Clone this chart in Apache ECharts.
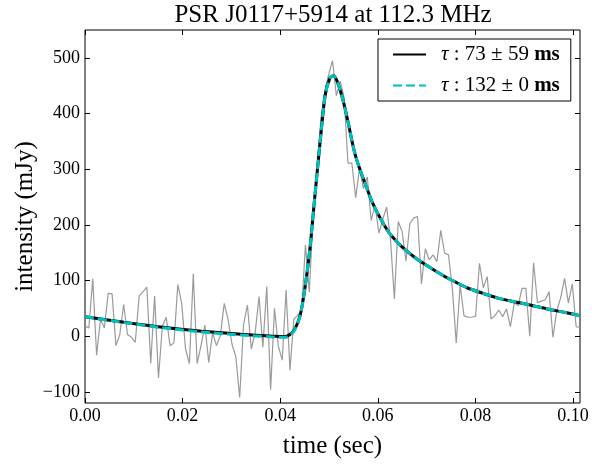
<!DOCTYPE html>
<html><head><meta charset="utf-8">
<script src="https://cdn.jsdelivr.net/npm/echarts@6/dist/echarts.min.js"></script>
<style>html,body{margin:0;padding:0;background:#fff}#c{width:599px;height:464px}</style>
</head><body><div id="c"></div>
<script>
// ---- data ----
const PERIOD = 0.10144;   // sec, x-axis extent
const NBINS = 128;        // profile bins
const profile = [
  18, 15, 103, -34, 30, 15, 77, 76, -17, 3,
  57, 3, -2, -11, 72, 80, 88, -49, 72, -75,
  18, 34, -17, -12, 93, 59, -23, -49, 112, -49,
  -17, 20, -47, 6, -17, 1, 59, 30, -14, -37,
  -110, 21, 56, -23, 6, 71, -20, 89, -96, 50,
  -18, -43, 83, -61, 30, 38, 44, 164, 79, 216,
  301, 391, 441, 470, 495, 432, 458, 429, 311, 311,
  249, 302, 265, 286, 208, 235, 185, 210, 232, 174,
  67, 206, 188, 135, 202, 212, 215, 94, 157, 137,
  146, 134, 190, 149, 146, 85, -12, 92, 37, 34,
  34, 36, 131, 87, 107, 31, 37, 47, 35, 49,
  17, 60, 55, 86, 86, 0, 132, 60, 63, 65,
  80, -2, 46, 69, 104, 60, 94, 17, 16
];
const fitTimes = [0, 0.008, 0.016, 0.024, 0.032, 0.038, 0.041, 0.042, 0.043, 0.0441,
  0.0451, 0.0461, 0.0471, 0.0482, 0.0492, 0.0502, 0.0510, 0.0518, 0.0529, 0.0539,
  0.0549, 0.0555, 0.0564, 0.0572, 0.0590, 0.0607, 0.0623, 0.0641, 0.0658, 0.0678,
  0.0695, 0.0715, 0.0742, 0.0762, 0.0783, 0.0812, 0.0848, 0.0879, 0.0912, 0.0947,
  0.0982, 0.10144];
const fitBlack = [35, 25, 16, 9, 3.5, 0.5, -0.5, 3, 13, 38,
  88, 158, 251, 350, 432, 464, 468, 455, 423, 385,
  343, 322, 298, 279, 238, 209, 186, 168, 154, 140,
  130, 119, 105, 96, 87, 78, 68, 62, 56, 49,
  43, 37];
const fitCyan = [35, 24.5, 15, 7.5, 2, -1, -2, 1.5, 12, 37,
  88, 158, 251, 350, 432, 464, 468, 455, 423, 385,
  343, 322, 298, 279, 238, 209, 186, 168, 154, 140,
  130, 119, 105, 96, 87, 78, 68, 62, 56, 49,
  43, 37];
const xTicks = [0, 0.02, 0.04, 0.06, 0.08, 0.10];
const yTicks = [-100, 0, 100, 200, 300, 400, 500];
const tauValues = ['73', '132'];
const tauErrors = ['59', '0'];
const seriesNames = ['fit1', 'fit2'];

// ---- chart ----
const SERIF = "'Liberation Serif','DejaVu Serif',serif";
const profileData = profile.map((v, i) => [i * PERIOD / NBINS, v]);
const pairs = (ts, vs) => ts.map((t, i) => [t, vs[i]]);
const tickStyle = {show: true, inside: true, length: 5, lineStyle: {color: '#000', width: 1}};
const noLine = {show: false, onZero: false};
const minus = v => (v < 0 ? '\u2212' + Math.abs(v) : String(v));

const chart = echarts.init(document.getElementById('c'), null, {renderer: 'canvas'});
chart.setOption({
  animation: false,
  backgroundColor: '#fff',
  grid: {left: 85, right: 19, top: 30, bottom: 52, show: true, borderColor: '#000', borderWidth: 1},
  graphic: [{
    type: 'text', x: 333, y: 15,
    style: {text: 'PSR J0117+5914 at 112.3 MHz', font: "25px " + SERIF, fill: '#000',
      textAlign: 'center', textVerticalAlign: 'middle'}
  }],
  xAxis: [{
    type: 'value', min: 0, max: PERIOD, position: 'bottom',
    splitLine: {show: false}, axisLine: noLine,
    axisTick: Object.assign({customValues: xTicks}, tickStyle),
    axisLabel: {customValues: xTicks, formatter: v => v.toFixed(2), margin: 4,
      fontFamily: SERIF, fontSize: 18, color: '#000'},
    name: 'time (sec)', nameLocation: 'middle', nameGap: 31, nameMoveOverlap: false,
    nameTextStyle: {fontFamily: SERIF, fontSize: 25, color: '#000', verticalAlign: 'top'}
  }, {
    type: 'value', min: 0, max: PERIOD, position: 'top',
    splitLine: {show: false}, axisLine: noLine,
    axisTick: Object.assign({customValues: xTicks}, tickStyle),
    axisLabel: {show: false}
  }],
  yAxis: [{
    type: 'value', min: -120, max: 550, position: 'left',
    splitLine: {show: false}, axisLine: noLine,
    axisTick: Object.assign({customValues: yTicks}, tickStyle),
    axisLabel: {customValues: yTicks, formatter: minus, margin: 5,
      fontFamily: SERIF, fontSize: 18, color: '#000'},
    name: 'intensity (mJy)', nameLocation: 'middle', nameGap: 47, nameMoveOverlap: false,
    nameTextStyle: {fontFamily: SERIF, fontSize: 25, color: '#000'}
  }, {
    type: 'value', min: -120, max: 550, position: 'right',
    splitLine: {show: false}, axisLine: noLine,
    axisTick: Object.assign({customValues: yTicks}, tickStyle),
    axisLabel: {show: false}
  }],
  legend: {
    orient: 'vertical', left: 378, top: 39,
    padding: [5, 11, 5, 14], itemGap: 10, itemWidth: 33, itemHeight: 14,
    backgroundColor: '#fff', borderColor: '#000', borderWidth: 1, borderRadius: 0,
    data: seriesNames,
    itemStyle: {color: 'rgba(0,0,0,0)', borderColor: 'rgba(0,0,0,0)', borderWidth: 0},
    formatter: name => {
      const k = seriesNames.indexOf(name);
      return '{t|\u03c4}{n| : ' + tauValues[k] + ' \u00b1 ' + tauErrors[k] + ' }{b|ms}';
    },
    textStyle: {
      padding: [0, 0, 0, 10],
      rich: {
        t: {fontFamily: SERIF, fontSize: 21, fontStyle: 'italic', color: '#000', lineHeight: 22},
        n: {fontFamily: SERIF, fontSize: 21, color: '#000', lineHeight: 22},
        b: {fontFamily: SERIF, fontSize: 21, fontWeight: 'bold', color: '#000', lineHeight: 22}
      }
    }
  },
  series: [{
    name: 'profile', type: 'line', data: profileData, showSymbol: false, symbol: 'none',
    lineStyle: {color: '#9a9a9a', width: 1.2}, z: 1, silent: true
  }, {
    name: seriesNames[0], type: 'line', data: pairs(fitTimes, fitBlack), showSymbol: false, symbol: 'none',
    smooth: 0.25, lineStyle: {color: '#000', width: 3}, itemStyle: {color: '#000'}, z: 2
  }, {
    name: seriesNames[1], type: 'line', data: pairs(fitTimes, fitCyan), showSymbol: false, symbol: 'none',
    smooth: 0.25, lineStyle: {color: '#00bfbf', width: 3, type: [9, 4]}, itemStyle: {color: '#00bfbf'}, z: 3
  }]
});
</script></body></html>
